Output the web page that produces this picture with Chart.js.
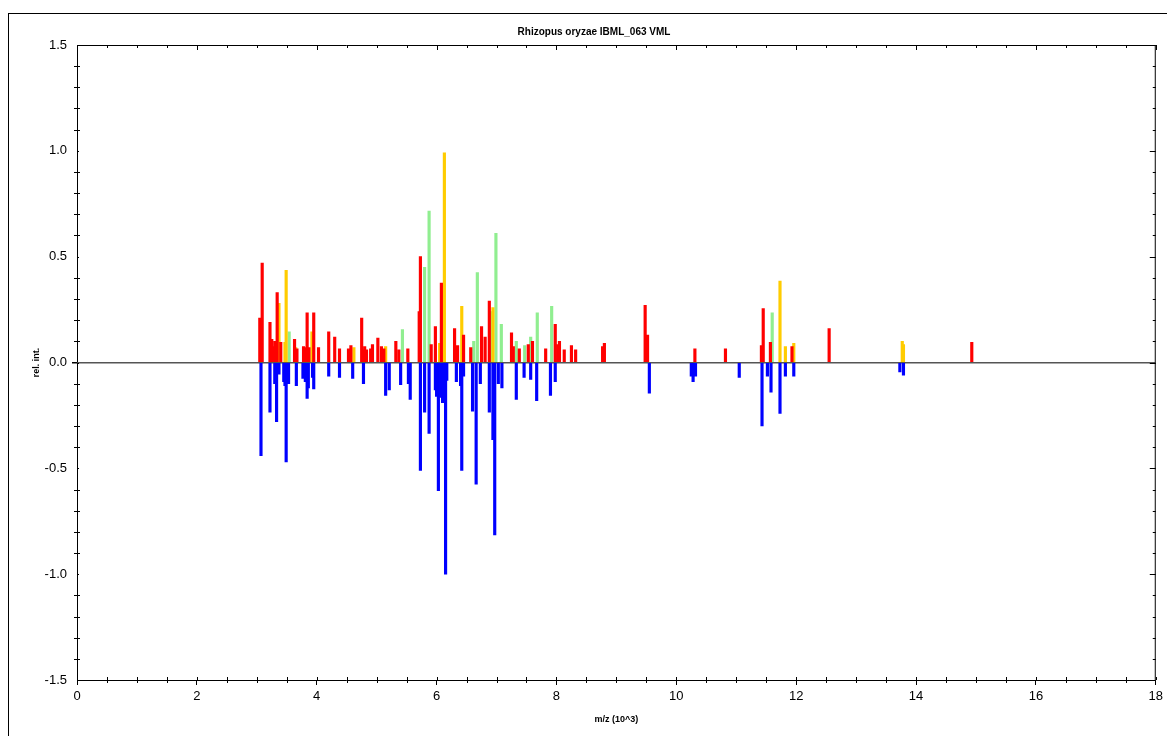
<!DOCTYPE html>
<html>
<head>
<meta charset="utf-8">
<script src="https://cdn.jsdelivr.net/npm/chart.js@4/dist/chart.umd.min.js"></script>
<style>
    html, body { margin: 0; padding: 0; background: #fff; overflow: hidden; }
    #frame { position: absolute; left: 8px; top: 13px; width: 1300px; height: 900px; border: 1px solid #000; }
    #wrap { position: absolute; left: 0; top: 0; width: 1167px; height: 736px; }
</style>
</head>
<body>
<div id="frame"></div>
<div id="wrap"><canvas id="spectrum"></canvas></div>
<script>
// m/z values in thousands, intensities relative
const redMz = [3.05, 3.09, 3.22, 3.25, 3.28, 3.30, 3.34, 3.40, 3.63, 3.67, 3.78, 3.80, 3.84, 3.87, 3.95, 4.03, 4.20, 4.30, 4.38, 4.53, 4.57,
    4.75, 4.78, 4.80, 4.83, 4.90, 4.93, 5.02, 5.08, 5.12, 5.32, 5.37, 5.52, 5.71, 5.73, 5.91, 5.98, 6.08, 6.30, 6.35, 6.45,
    6.57, 6.75, 6.81, 6.88, 7.25, 7.28, 7.38, 7.53, 7.60, 7.82, 7.98, 8.02, 8.05, 8.13, 8.25, 8.32, 8.77, 8.80, 9.48, 9.52,
    10.31, 10.82, 11.42, 11.45, 11.57, 11.93, 12.55, 14.93];
const redInt = [0.21, 0.47, 0.19, 0.11, 0.075, 0.10, 0.33, 0.095, 0.11, 0.065, 0.075, 0.07, 0.235, 0.07, 0.235, 0.07, 0.145, 0.12, 0.065, 0.065, 0.08,
    0.21, 0.06, 0.075, 0.06, 0.065, 0.085, 0.115, 0.075, 0.065, 0.10, 0.06, 0.065, 0.24, 0.50, 0.085, 0.17, 0.375, 0.16, 0.08, 0.13,
    0.07, 0.17, 0.12, 0.29, 0.14, 0.075, 0.065, 0.085, 0.10, 0.065, 0.18, 0.085, 0.10, 0.06, 0.08, 0.06, 0.075, 0.09, 0.27, 0.13,
    0.065, 0.065, 0.08, 0.255, 0.095, 0.075, 0.16, 0.095];

const yellowMz = [3.37, 3.47, 3.49, 3.65, 3.92, 4.62, 5.15, 6.05, 6.13, 6.42, 6.94, 11.73, 11.82, 11.96, 13.77, 13.79];
const yellowInt = [0.28, 0.095, 0.435, 0.07, 0.145, 0.07, 0.075, 0.09, 0.99, 0.265, 0.26, 0.385, 0.075, 0.09, 0.10, 0.085];

const greenMz = [3.54, 5.43, 5.80, 5.875, 6.62, 6.68, 6.90, 6.99, 7.08, 7.33, 7.47, 7.57, 7.68, 7.92, 11.60];
const greenInt = [0.145, 0.155, 0.45, 0.715, 0.10, 0.425, 0.24, 0.61, 0.18, 0.10, 0.08, 0.12, 0.235, 0.265, 0.235];

const blueMz = [3.07, 3.22, 3.30, 3.33, 3.37, 3.45, 3.47, 3.49, 3.53, 3.66, 3.77, 3.81, 3.84, 3.86, 3.93, 3.95, 4.20, 4.38, 4.60,
    4.78, 5.15, 5.21, 5.40, 5.53, 5.56, 5.73, 5.80, 5.875, 5.98, 6.00, 6.03, 6.07, 6.10, 6.15, 6.17, 6.33, 6.40, 6.42, 6.45,
    6.60, 6.66, 6.73, 6.88, 6.94, 6.97, 7.03, 7.09, 7.33, 7.46, 7.57, 7.67, 7.90, 7.98, 9.55, 10.25, 10.28, 10.32, 11.05,
    11.43, 11.52, 11.58, 11.73, 11.82, 11.96, 13.73, 13.79];
const blueInt = [-0.44, -0.235, -0.10, -0.28, -0.055, -0.09, -0.11, -0.47, -0.10, -0.11, -0.075, -0.09, -0.17, -0.12, -0.07, -0.125, -0.065, -0.07, -0.075,
    -0.10, -0.155, -0.13, -0.105, -0.10, -0.175, -0.51, -0.235, -0.335, -0.13, -0.16, -0.605, -0.165, -0.19, -1.0, -0.085, -0.09, -0.11, -0.51, -0.065,
    -0.23, -0.575, -0.10, -0.235, -0.365, -0.815, -0.10, -0.12, -0.175, -0.07, -0.08, -0.18, -0.155, -0.09, -0.145, -0.065, -0.09, -0.065, -0.07,
    -0.30, -0.065, -0.14, -0.24, -0.065, -0.065, -0.045, -0.06];

const toPoints = (xs, ys) => xs.map((x, i) => ({ x: x, y: ys[i] }));

const barStyle = { barThickness: 2.5, grouped: false, borderWidth: 0 };

// minor ticks + top/right frame, drawn from the scales
const frameTicks = {
    id: 'frameTicks',
    afterDraw(chart) {
        const { ctx, chartArea: a, scales: { x, y } } = chart;
        ctx.save();
        ctx.strokeStyle = '#000';
        ctx.lineWidth = 1;
        ctx.beginPath();
        ctx.moveTo(a.left, a.top + 0.5); ctx.lineTo(a.right, a.top + 0.5);
        ctx.moveTo(a.right - 0.5, a.top); ctx.lineTo(a.right - 0.5, a.bottom);
        for (let i = 0; i <= 36; i++) {
            const px = Math.round(x.getPixelForValue(i * 0.5)) + 0.5;
            const major = i % 4 === 0;
            ctx.moveTo(px, a.top); ctx.lineTo(px, a.top + (major ? 5 : 3));
            if (major) {
                ctx.moveTo(px, a.bottom - 3); ctx.lineTo(px, a.bottom);
            } else {
                ctx.moveTo(px, a.bottom - 3); ctx.lineTo(px, a.bottom + 3);
            }
        }
        for (let i = -15; i <= 15; i++) {
            const py = Math.round(y.getPixelForValue(i * 0.1)) + 0.5;
            const major = i % 5 === 0;
            if (major) {
                ctx.moveTo(a.left, py); ctx.lineTo(a.left + 2, py);
            } else {
                ctx.moveTo(a.left - 3, py); ctx.lineTo(a.left + 3, py);
            }
            ctx.moveTo(a.right, py); ctx.lineTo(a.right - (major ? 6 : 3), py);
        }
        ctx.stroke();
        ctx.restore();
    }
};

new Chart(document.getElementById('spectrum'), {
    type: 'bar',
    data: {
        datasets: [
            { label: 'red', data: toPoints(redMz, redInt), backgroundColor: '#ff0000', ...barStyle },
            { label: 'yellow', data: toPoints(yellowMz, yellowInt), backgroundColor: '#ffcc00', ...barStyle },
            { label: 'green', data: toPoints(greenMz, greenInt), backgroundColor: '#90ee90', ...barStyle },
            { label: 'blue', data: toPoints(blueMz, blueInt), backgroundColor: '#0000ff', ...barStyle }
        ]
    },
    options: {
        responsive: true,
        maintainAspectRatio: false,
        animation: false,
        layout: { padding: { left: 31, right: 10, top: 26, bottom: 8 } },
        plugins: {
            legend: { display: false },
            tooltip: { enabled: false },
            title: {
                display: true,
                text: 'Rhizopus oryzae IBML_063 VML',
                color: '#000',
                font: { family: 'Liberation Sans, Arial, sans-serif', size: 10, weight: 'bold' },
                padding: { top: 0, bottom: 7 }
            }
        },
        scales: {
            x: {
                type: 'linear',
                min: 0, max: 18,
                offset: false,
                afterFit: (s) => { s.height = 48; },
                ticks: {
                    stepSize: 2,
                    padding: 4,
                    color: '#000',
                    font: { family: 'Liberation Sans, Arial, sans-serif', size: 13 }
                },
                grid: { drawOnChartArea: false, offset: false, tickLength: 5, tickColor: '#000' },
                border: { color: '#000', width: 1 },
                title: {
                    display: true,
                    text: 'm/z (10^3)',
                    color: '#000',
                    font: { family: 'Liberation Sans, Arial, sans-serif', size: 9, weight: 'bold' },
                    padding: { top: 2, bottom: 3 }
                }
            },
            y: {
                min: -1.5, max: 1.5,
                afterFit: (s) => { s.width = 46; },
                ticks: {
                    stepSize: 0.5,
                    padding: 5,
                    color: '#000',
                    font: { family: 'Liberation Sans, Arial, sans-serif', size: 13 },
                    callback: (v) => v.toFixed(1)
                },
                grid: {
                    drawOnChartArea: true,
                    tickLength: 5,
                    tickColor: '#000',
                    color: (c) => (c.tick && c.tick.value === 0 ? '#555' : 'rgba(0,0,0,0)'),
                    lineWidth: (c) => (c.tick && c.tick.value === 0 ? 1.5 : 0)
                },
                border: { color: '#000', width: 1 },
                title: {
                    display: true,
                    text: 'rel. int.',
                    color: '#000',
                    font: { family: 'Liberation Sans, Arial, sans-serif', size: 9, weight: 'bold' },
                    padding: { top: 0, bottom: 0 }
                }
            }
        }
    },
    plugins: [frameTicks]
});
</script>
</body>
</html>
